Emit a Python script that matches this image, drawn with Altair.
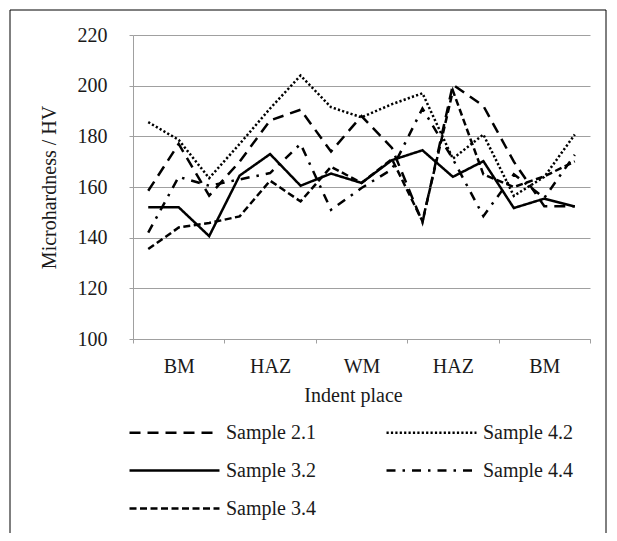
import altair as alt
import pandas as pd

# x positions: 15 indents, 3 per zone
zones = ["BM", "HAZ", "WM", "HAZ", "BM"]
indent = list(range(15))

s21 = [158.5, 177, 156.6, 170, 186.3, 190.5, 174, 188, 175.4, 146, 200.4, 192, 170, 152.4, 152.4]
s32 = [152, 152, 140.6, 164.5, 173, 160.5, 165.3, 161.6, 170.6, 174.5, 164, 170.2, 151.7, 155.4, 152.3]
s34 = [135.5, 144, 145.8, 148.4, 162.5, 154.3, 168, 161.6, 171, 146.5, 198, 165, 160, 164.2, 170.1]
s42 = [185.6, 178.6, 163.5, 177, 191, 204, 191.5, 187.5, 192.7, 197, 171.2, 180.7, 156.5, 164, 180.7]
s44 = [142, 164, 160.5, 163, 165.5, 177, 151, 159.6, 167, 191, 171, 148.5, 165, 155.7, 172.7]

# legend fills column by column: (2.1, 3.2, 3.4) then (4.2, 4.4)
series_names = ["Sample 2.1", "Sample 3.2", "Sample 3.4", "Sample 4.2", "Sample 4.4"]
series_vals = [s21, s32, s34, s42, s44]
dashes = [[11, 7], [1, 0], [7, 3.5], [2.2, 2.2], [9, 7, 2.5, 7]]

rows = []
for name, vals in zip(series_names, series_vals):
    for i, v in zip(indent, vals):
        rows.append({"series": name, "pos": i + 0.5, "value": v})
df = pd.DataFrame(rows)

W, H = 457, 304
FONT = "Liberation Serif"
TXT = "#1a1a1a"
GRID = "#a0a0a0"

label_expr = ("datum.value == 0 ? 'BM' : datum.value == 3 ? 'HAZ' : datum.value == 6 ? 'WM' : "
              "datum.value == 9 ? 'HAZ' : datum.value == 12 ? 'BM' : ''")

lines = alt.Chart(df).mark_line(color="black", strokeWidth=2.5).encode(
    x=alt.X("pos:Q", scale=alt.Scale(domain=[0, 15], nice=False, zero=False),
            axis=alt.Axis(values=[0, 3, 6, 9, 12, 15], labelExpr=label_expr,
                          labelOffset=W / 10, labelOverlap=False, labelFlush=False,
                          grid=False, tickSize=4, tickColor=GRID, domainColor=GRID,
                          labelPadding=13, title="Indent place", titleX=220,
                          titlePadding=9)),
    y=alt.Y("value:Q", scale=alt.Scale(domain=[100, 220], nice=False, zero=False),
            axis=alt.Axis(values=[100, 120, 140, 160, 180, 200, 220], grid=True,
                          gridColor=GRID, tickSize=4, tickColor=GRID, domainColor=GRID,
                          labelPadding=22, title="Microhardness / HV", titlePadding=18)),
    strokeDash=alt.StrokeDash("series:N",
                              scale=alt.Scale(domain=series_names, range=dashes),
                              legend=alt.Legend(title=None, orient="none", legendX=14,
                                                legendY=370, columns=2,
                                                symbolType="M-1.714,0L1.714,0",
                                                symbolSize=2756, symbolStrokeWidth=2.5,
                                                symbolStrokeColor="black",
                                                symbolFillColor="transparent", labelOffset=24,
                                                columnPadding=65, rowPadding=0, padding=0,
                                                labelFont=FONT, labelFontSize=20,
                                                labelColor=TXT)),
    detail="series:N",
)

frame = alt.Chart(pd.DataFrame({"a": [0]})).mark_rect(
    fill=None, stroke="black", strokeWidth=1
).encode(x=alt.value(-123), x2=alt.value(473), y=alt.value(-25), y2=alt.value(560))

chart = alt.layer(lines, frame).properties(
    width=W, height=H,
    autosize=alt.AutoSizeParams(type="none"),
    padding={"left": 125, "top": 27, "right": 17, "bottom": 194},
    background="white",
).configure_view(stroke=None).configure_axis(
    labelFont=FONT, labelFontSize=20, labelColor=TXT,
    titleFont=FONT, titleFontSize=20, titleColor=TXT, titleFontWeight="normal",
)

chart.save("out.html", embed_options={"renderer": "svg", "actions": False})
